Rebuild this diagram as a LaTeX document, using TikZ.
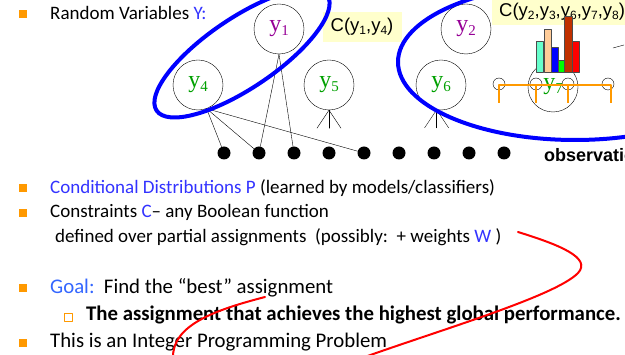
\documentclass[tikz,border=0pt]{standalone}
\usepackage{fontspec}
\setmainfont{Carlito}
\newfontfamily\timesf{Liberation Serif}
\newfontfamily\arialf{Liberation Sans}
\usetikzlibrary{positioning}

\definecolor{bulorange}{RGB}{255,153,0}
\definecolor{txtblue}{RGB}{51,51,255}
\definecolor{goalblue}{RGB}{51,102,255}
\definecolor{ypurple}{RGB}{150,0,150}
\definecolor{ygreen}{RGB}{0,160,0}
\definecolor{noteyellow}{RGB}{255,255,204}
\definecolor{barmint}{RGB}{102,255,204}
\definecolor{barpeach}{RGB}{255,204,153}
\definecolor{barbrown}{RGB}{192,48,0}

% y_i in a circle, and small subscripts for the C(...) notes
\newcommand{\ylab}[2]{\raisebox{-4pt}{\color{#1}\timesf\fontsize{24}{24}\selectfont y\raisebox{-4pt}{\fontsize{15}{15}\selectfont #2}}}
\newcommand{\ysub}[1]{\raisebox{-3pt}{\fontsize{12}{12}\selectfont #1}}

\begin{document}
\begin{tikzpicture}[
	x=1pt, y=-1pt,
	line cap=round,
	line join=round,
	ynode/.style={circle, draw, thin, minimum size=50pt, inner sep=0pt},
	obs/.style={circle, fill, minimum size=13pt, inner sep=0pt},
	fnode/.style={circle, draw, thin, minimum size=12pt, inner sep=0pt},
	note/.style={fill=noteyellow, inner sep=0pt, font=\arialf\fontsize{18.5}{18.5}\selectfont},
	txt/.style={anchor=base west, inner sep=0pt, font=\fontsize{19}{23}\selectfont},
	bigtxt/.style={txt, font=\fontsize{20.8}{25}\selectfont},
	bullet/.style={fill=bulorange, minimum size=8pt, inner sep=0pt},
	group/.style={blue, line width=4pt},
	factor/.style={bulorange, line width=2pt, line cap=butt},
	scribble/.style={red, line width=2pt}
	]
	\useasboundingbox (0,0) rectangle (625,355);
	\clip (0,0) rectangle (625,355);
	
	% Variables
	\node[ynode] (y1) at (279,29) {\ylab{ypurple}{1}};
	\node[ynode] (y2) at (466,29) {\ylab{ypurple}{2}};
	\node[ynode] (y4) at (198,85) {\ylab{ygreen}{4}};
	\node[ynode] (y5) at (329,85) {\ylab{ygreen}{5}};
	\node[ynode] (y6) at (441,85) {\ylab{ygreen}{6}};
	\node[ynode] (y7) at (553,87) {\ylab{ygreen}{7}};
	
	% Observations
	\foreach \i in {1,...,9}
	\node[obs] (o\i) at ({189+35*\i},153) {};
	\node[anchor=base west, inner sep=0pt, font=\arialf\bfseries\fontsize{18}{18}\selectfont]
	(obstxt) at (544,162) {observations};
	
	% Links to the observations
	\draw (y4.-70) -- (o1);
	\draw (y4.-70) -- (o2);
	\draw (y4.-70) -- (o5);
	\draw (y1.south) -- (o2);
	\draw (y1.south) -- (o3);
	\foreach \dx in {-12,0,12}
	\draw (y5.south) -- ++(\dx,18);
	\foreach \dx in {-12,0,12}
	\draw (y6.-100) -- ++(\dx,18);
	
	% Constraint notes
	\node[note, minimum width=79pt, minimum height=30pt] (c14) at (362,27)
	{C(y\ysub{1},y\ysub{4})};
	\node[note, anchor=west, inner xsep=7pt, minimum height=26pt] (cbig) at (492,12)
	{C(y\ysub{2},y\ysub{3},y\ysub{6},y\ysub{7},y\ysub{8})};
	
	% Histogram over y7
	\draw[fill=barmint, draw=black!70] (535.7,72.5) rectangle (543.3,41);
	\draw[fill=barpeach, draw=black!70] (544,72.5) rectangle (550.7,29);
	\draw[fill=blue, draw=black!70] (551,72.5) rectangle (558.3,47.7);
	\draw[fill=green, draw=black!70] (558.3,72.5) rectangle (564.3,60);
	\draw[fill=barbrown, draw=black!70] (564.3,72.5) rectangle (571.7,16);
	\draw[fill=red, draw=black!70] (572.3,72.5) rectangle (579.3,41);
	
	% Factor chain
	\node[fnode] (f1) at (499,84) {};
	\node[fnode] (f2) at (536,84) {};
	\node[fnode] (f3) at (568,84) {};
	\node[fnode] (f4) at (608,84) {};
	\draw[factor] (499,103) -- (499,85) -- (611,85) -- (611,103);
	\draw[factor] (536,85) -- (536,103);
	\draw[factor] (568,85) -- (568,103);
	\draw (613,48) -- (624,45);
	
	% Groups of variables
	\draw[group, rotate around={34:(242,53)}] (242,53) ellipse (103 and 35);
	\draw[group] (575,62) ellipse (177 and 78);
	
	% Bullet text
	\node[bullet] (b1) at (23,14) {};
	\node[txt] (rvtxt) at (50,20) {Random Variables {\color{txtblue}Y:}};
	\node[bullet] (b2) at (23,188) {};
	\node[txt] (cdtxt) at (50,194)
	{{\color{txtblue}Conditional Distributions P} (learned by models/classifiers)};
	\node[bullet] (b3) at (23,213) {};
	\node[txt] (constxt) at (50,218) {Constraints {\color{txtblue}C}– any Boolean function};
	\node[txt] (deftxt) at (55,243)
	{defined over partial assignments\ \ (possibly:\ \ + weights {\color{txtblue}W} )};
	\node[bullet] (b4) at (23,288) {};
	\node[bigtxt] (goaltxt) at (50,294)
	{{\color{goalblue}Goal:}\ \ Find the “best” assignment};
	\node[draw=bulorange, thick, minimum size=8pt, inner sep=0pt] (sb) at (68,317) {};
	\node[bigtxt] (besttxt) at (86,321)
	{\textbf{The assignment that achieves the highest global performance.}};
	\node[bullet] (b5) at (23,343) {};
	\node[bigtxt] (iptxt) at (50,348) {This is an Integer Programming Problem};
	
	% Red strokes
	\draw[scribble] (518,232) .. controls (560,245) and (592,258) .. (578,273)
	.. controls (556,296) and (440,330) .. (362,358);
	\draw[scribble] (265,297) .. controls (215,310) and (172,325) .. (173,358);
	
\end{tikzpicture}
\end{document}
